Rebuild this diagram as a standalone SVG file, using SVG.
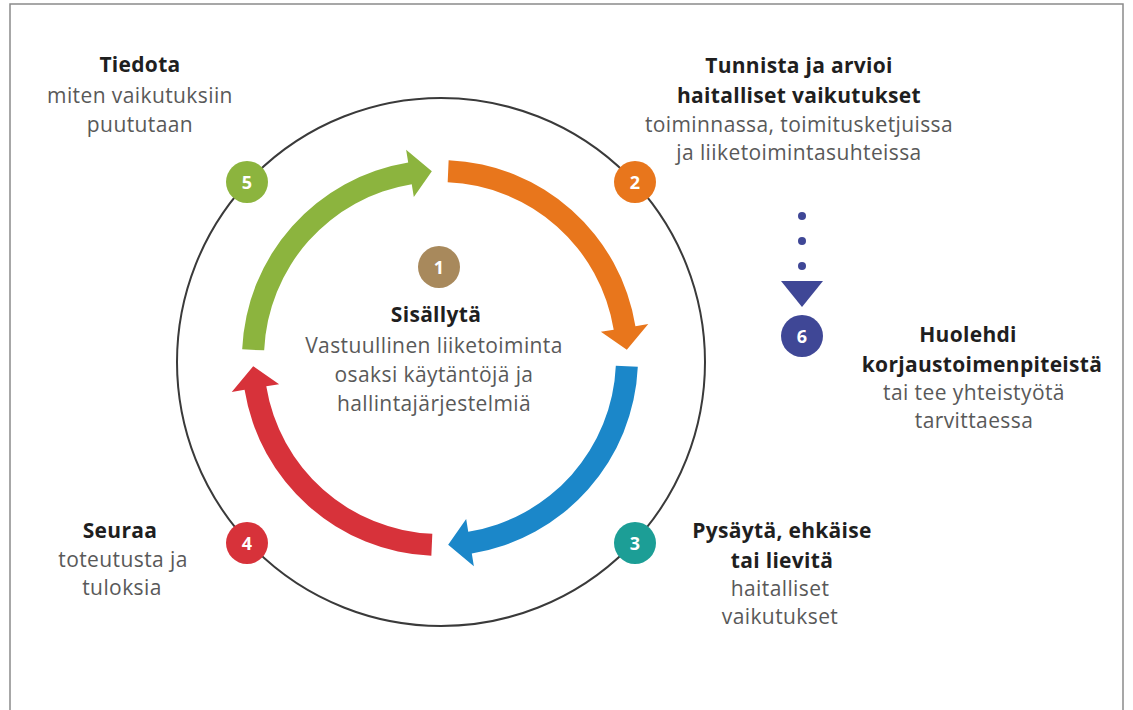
<svg xmlns="http://www.w3.org/2000/svg" width="1133" height="710" viewBox="0 0 1133 710">
<style>
  text { font-family: "Open Sans", "Liberation Sans", sans-serif; text-anchor: middle; }
  .t { font-size: 21px; font-weight: 700; fill: #1f1f1f; letter-spacing: 0.3px; }
  .s { font-size: 21px; font-weight: 400; fill: #595959; letter-spacing: 0.4px; }
  .n { font-size: 18px; font-weight: 700; fill: #ffffff; }
  .ring { fill: none; stroke: #3a3a3a; stroke-width: 2; }
</style>
<defs>
  <path id="arrow" d="M 448.64 160.19 A 198 198 0 0 1 635.43 326.21 L 648.26 324.12 L 626.82 349.84 L 600.88 331.83 L 613.72 329.74 A 176 176 0 0 0 447.68 182.17 Z"/>
</defs>
<rect x="0" y="0" width="1133" height="710" fill="#ffffff"/>
<rect x="10" y="4" width="1113" height="720" fill="none" stroke="#8a8a8a" stroke-width="1.5"/>

<g id="ring">
  <circle class="ring" cx="441" cy="362" r="264"/>
</g>

<g id="connectors">
  <use href="#arrow" fill="#E8761C"/>
  <use href="#arrow" fill="#1B87C9" transform="rotate(90 440 358)"/>
  <use href="#arrow" fill="#D7323A" transform="rotate(180 440 358)"/>
  <use href="#arrow" fill="#8CB43E" transform="rotate(-90 440 358)"/>
  <g id="dots" fill="#3F4796">
    <circle cx="802" cy="216" r="4"/>
    <circle cx="802" cy="241" r="4"/>
    <circle cx="802" cy="266" r="4"/>
    <polygon points="781,281 823,281 802,307"/>
  </g>
</g>

<g id="node1">
  <circle cx="439" cy="267" r="21" fill="#A8895C"/>
  <text class="n" x="439" y="273.5">1</text>
  <text class="t" x="436" y="322">Sisällytä</text>
  <text class="s" x="434" y="353">Vastuullinen liiketoiminta</text>
  <text class="s" x="434" y="382">osaksi käytäntöjä ja</text>
  <text class="s" x="434" y="411">hallintajärjestelmiä</text>
</g>

<g id="node2">
  <circle cx="635" cy="182" r="21" fill="#E8761C"/>
  <text class="n" x="635" y="188.5">2</text>
  <text class="t" x="799" y="73">Tunnista ja arvioi</text>
  <text class="t" x="799" y="103">haitalliset vaikutukset</text>
  <text class="s" x="799" y="132">toiminnassa, toimitusketjuissa</text>
  <text class="s" x="799" y="160">ja liiketoimintasuhteissa</text>
</g>

<g id="node3">
  <circle cx="635" cy="543" r="21" fill="#1C9E96"/>
  <text class="n" x="635" y="549.5">3</text>
  <text class="t" x="782" y="538">Pysäytä, ehkäise</text>
  <text class="t" x="782" y="568">tai lievitä</text>
  <text class="s" x="780" y="596">haitalliset</text>
  <text class="s" x="780" y="624">vaikutukset</text>
</g>

<g id="node4">
  <circle cx="247" cy="543" r="21" fill="#D7323A"/>
  <text class="n" x="247" y="549.5">4</text>
  <text class="t" x="120" y="538">Seuraa</text>
  <text class="s" x="123" y="567">toteutusta ja</text>
  <text class="s" x="122" y="595">tuloksia</text>
</g>

<g id="node5">
  <circle cx="247" cy="182" r="21" fill="#8CB43E"/>
  <text class="n" x="247" y="188.5">5</text>
  <text class="t" x="140" y="72">Tiedota</text>
  <text class="s" x="140" y="103">miten vaikutuksiin</text>
  <text class="s" x="140" y="132">puututaan</text>
</g>

<g id="node6">
  <circle cx="802" cy="336" r="21" fill="#3F4796"/>
  <text class="n" x="802" y="342.5">6</text>
  <text class="t" x="968" y="342">Huolehdi</text>
  <text class="t" x="982" y="372">korjaustoimenpiteistä</text>
  <text class="s" x="974" y="400">tai tee yhteistyötä</text>
  <text class="s" x="974" y="428">tarvittaessa</text>
</g>
</svg>
